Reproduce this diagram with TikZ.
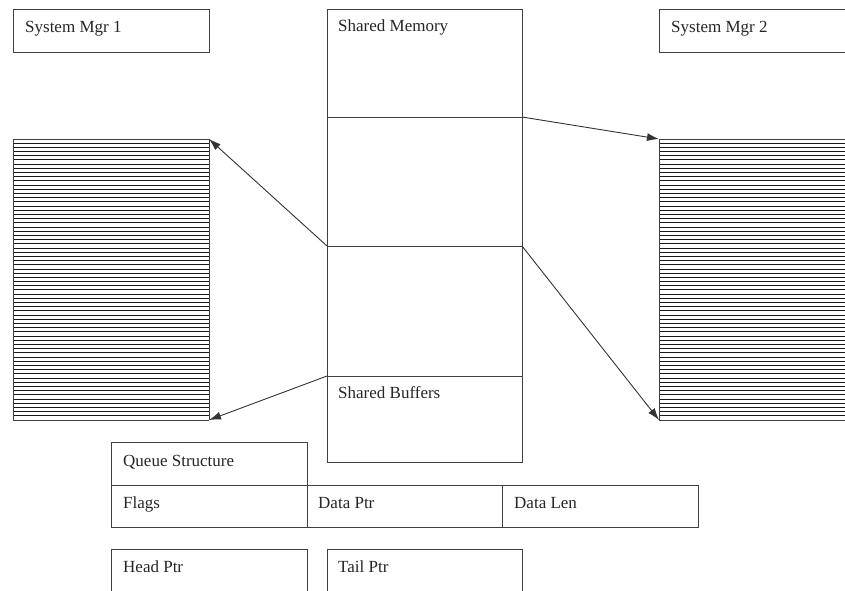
\documentclass[tikz,border=0pt]{standalone}
\usepackage{fontspec}
\setmainfont{Liberation Serif}
\usetikzlibrary{arrows.meta}
\begin{document}
\begin{tikzpicture}[x=1pt,y=-1pt,
  ln/.style={draw=black!75,line width=0.9pt},
  boxn/.style={ln,rectangle,anchor=north west,inner sep=0pt,outer sep=0pt},
  plain/.style={rectangle,anchor=north west,inner sep=0pt,outer sep=0pt},
  lbl/.style={anchor=base west,inner sep=0pt,font=\fontsize{17}{20}\selectfont,text=black!85},
  arr/.style={draw=black!80,line width=0.9pt,-{Latex[length=12pt,width=8pt]}},
  hatch/.style={draw=black!90,line width=1pt}
]
\useasboundingbox (0,0) rectangle (845,590);
\fill[white] (0,0) rectangle (845,590);

% System Mgr 1
\node[boxn,minimum width=196pt,minimum height=43pt] (sm1) at (13,9) {};
\node[lbl] (sm1t) at (25,32) {System Mgr 1};

% System Mgr 2 (runs off right edge)
\node[plain,minimum width=186pt,minimum height=43pt] (sm2) at (659,9) {};
\draw[ln] (sm2.north east) -- (sm2.north west) -- (sm2.south west) -- (sm2.south east);
\node[lbl] (sm2t) at (671,32) {System Mgr 2};

% Shared memory column
\node[boxn,minimum width=195pt,minimum height=453pt] (mem) at (327,9) {};
\coordinate (d1w) at (327,117); \coordinate (d1e) at (522,117);
\coordinate (d2w) at (327,246); \coordinate (d2e) at (522,246);
\coordinate (d3w) at (327,376); \coordinate (d3e) at (522,376);
\draw[ln] (d1w) -- (d1e);
\draw[ln] (d2w) -- (d2e);
\draw[ln] (d3w) -- (d3e);
\node[lbl] (memt) at (338,31) {Shared Memory};
\node[lbl] (buft) at (338,398) {Shared Buffers};

% Hatched blocks
\node[plain,minimum width=196pt,minimum height=281pt] (hl) at (13,139) {};
\node[plain,minimum width=186pt,minimum height=281pt] (hr) at (659,139) {};
\foreach \i in {0,...,66}{
  \draw[hatch] (13,139+\i*4.194) -- (209,139+\i*4.194);
  \draw[hatch] (659,139+\i*4.194) -- (845,139+\i*4.194);
}
\draw[ln] (hl.north west) -- (hl.south west);
\draw[ln] (hl.north east) -- (hl.south east);
\draw[ln] (hl.north west) -- (hl.north east);
\draw[ln] (hl.south west) -- (hl.south east);
\draw[ln] (hr.north west) -- (hr.south west);
\draw[ln] (hr.north west) -- (hr.north east);
\draw[ln] (hr.south west) -- (hr.south east);

% Arrows
\draw[arr] (d1e) -- (hr.north west);
\draw[arr] (d2w) -- (hl.north east);
\draw[arr] (d2e) -- (hr.south west);
\draw[arr] (d3w) -- (hl.south east);

% Queue structure
\node[boxn,minimum width=196pt,minimum height=43pt] (qs) at (111,442) {};
\node[lbl] (qst) at (123,466) {Queue Structure};
\node[boxn,minimum width=196pt,minimum height=42pt] (fl) at (111,485) {};
\node[boxn,minimum width=195pt,minimum height=42pt] (dp) at (307,485) {};
\node[boxn,minimum width=196pt,minimum height=42pt] (dl) at (502,485) {};
\node[lbl] (flt) at (123,508) {Flags};
\node[lbl] (dpt) at (318,508) {Data Ptr};
\node[lbl] (dlt) at (514,508) {Data Len};

% Head / Tail
\node[plain,minimum width=196pt,minimum height=45pt] (hp) at (111,549) {};
\draw[ln] (hp.south west) -- (hp.north west) -- (hp.north east) -- (hp.south east);
\node[plain,minimum width=195pt,minimum height=45pt] (tp) at (327,549) {};
\draw[ln] (tp.south west) -- (tp.north west) -- (tp.north east) -- (tp.south east);
\node[lbl] (hpt) at (123,572) {Head Ptr};
\node[lbl] (tpt) at (338,572) {Tail Ptr};
\end{tikzpicture}
\end{document}
